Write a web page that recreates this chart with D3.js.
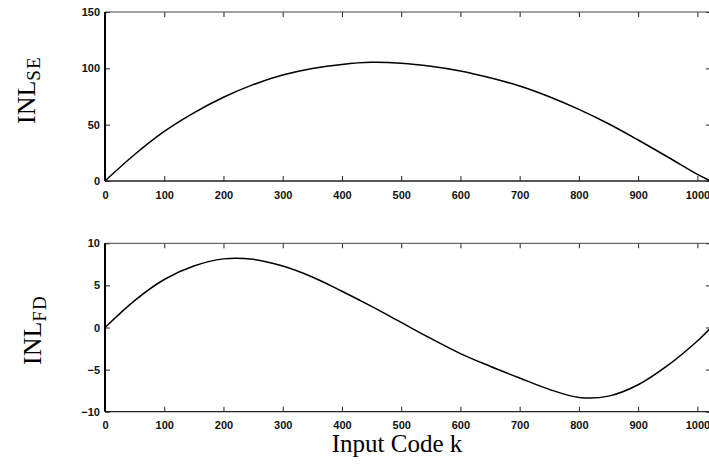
<!DOCTYPE html>
<html>
<head>
<meta charset="utf-8">
<script src="https://cdn.jsdelivr.net/npm/d3@7/dist/d3.min.js"></script>
<style>
  html, body { margin: 0; padding: 0; background: #fff; }
  svg { display: block; }
  .tick text { font-family: "Liberation Sans", Arial, sans-serif; font-size: 11px; font-weight: bold; fill: #111; }
</style>
</head>
<body>
<svg id="chart" width="709" height="464"></svg>
<script>
// ---- data ----
const codes   = [0, 50, 100, 150, 200, 250, 300, 350, 400, 450, 500, 550, 600, 650, 700, 750, 800, 850, 900, 950, 1000, 1023];
const inlSE   = [0, 23.5, 44, 60.5, 74.3, 85.5, 94, 99.8, 103.5, 105.3, 104.5, 101.8, 97.6, 91.6, 84.3, 74.8, 63.6, 50.8, 36.4, 21.3, 5.9, 0];
const inlFD   = [0, 3.2, 5.7, 7.3, 8.15, 8.1, 7.3, 6.0, 4.3, 2.5, 0.6, -1.3, -3.1, -4.6, -6.0, -7.35, -8.3, -8.15, -6.8, -4.5, -1.6, 0];
const xTicks  = [0, 100, 200, 300, 400, 500, 600, 700, 800, 900, 1000];
const seTicks = [0, 50, 100, 150];
const fdTicks = [-10, -5, 0, 5, 10];
const xLabel  = "Input Code k";

const svg = d3.select("#chart");
const left = 105, right = 711;
const x = d3.scaleLinear().domain([0, 1023]).range([left, right]);

function panel(opts) {
  const y = d3.scaleLinear().domain(opts.domain).range([opts.bottom, opts.top]);
  const g = svg.append("g");

  const tl = 5;
  g.append("g").attr("transform", `translate(0,${opts.bottom})`)
    .call(d3.axisBottom(x).tickValues(xTicks).tickSize(-tl).tickPadding(tl + 5).tickFormat(d3.format("d")))
    .call(a => a.select(".domain").remove())
    .call(a => a.selectAll("line").attr("stroke", "#222"));
  g.append("g").attr("transform", `translate(0,${opts.top})`)
    .call(d3.axisTop(x).tickValues(xTicks).tickSize(-tl).tickFormat(""))
    .call(a => a.select(".domain").remove())
    .call(a => a.selectAll("line").attr("stroke", "#222"));
  g.append("g").attr("transform", `translate(${left},0)`)
    .call(d3.axisLeft(y).tickValues(opts.ticks).tickSize(-tl).tickFormat(d3.format("d")))
    .call(a => a.select(".domain").remove())
    .call(a => a.selectAll("line").attr("stroke", "#222"))
    .call(a => a.selectAll("text").attr("x", -5));
  g.append("g").attr("transform", `translate(${right},0)`)
    .call(d3.axisRight(y).tickValues(opts.ticks).tickSize(-tl).tickFormat(""))
    .call(a => a.select(".domain").remove())
    .call(a => a.selectAll("line").attr("stroke", "#222"));

  // frame
  g.append("line").attr("x1", left).attr("x2", right).attr("y1", opts.top).attr("y2", opts.top)
    .attr("stroke", "#444").attr("stroke-width", 1);
  g.append("line").attr("x1", left).attr("x2", right).attr("y1", opts.bottom).attr("y2", opts.bottom)
    .attr("stroke", "#222").attr("stroke-width", 1.3);
  g.append("line").attr("x1", left).attr("x2", left).attr("y1", opts.top).attr("y2", opts.bottom)
    .attr("stroke", "#000").attr("stroke-width", 2);
  g.append("line").attr("x1", right).attr("x2", right).attr("y1", opts.top).attr("y2", opts.bottom)
    .attr("stroke", "#000").attr("stroke-width", 1);

  // curve
  const line = d3.line().x((d, i) => x(codes[i])).y(d => y(d)).curve(d3.curveCatmullRom);
  g.append("path").datum(opts.values).attr("d", line)
    .attr("fill", "none").attr("stroke", "#000").attr("stroke-width", 1.5);

  // y label: INL with subscript, rotated
  const t = g.append("text")
    .attr("transform", `translate(${opts.labelX},${opts.labelY}) rotate(-90)`)
    .attr("font-family", "'Liberation Serif', 'DejaVu Serif', serif")
    .attr("font-size", 26).attr("fill", "#000");
  t.append("tspan").text("INL");
  t.append("tspan").attr("font-size", 19).attr("dy", 5).attr("letter-spacing", 1).text(opts.sub);
}

panel({ domain: [0, 150], top: 12, bottom: 181, ticks: seTicks, values: inlSE, sub: "SE", labelX: 35, labelY: 124 });
panel({ domain: [-10, 10], top: 243.3, bottom: 411.7, ticks: fdTicks, values: inlFD, sub: "FD", labelX: 41, labelY: 365 });

svg.append("text")
  .attr("x", 397).attr("y", 452)
  .attr("text-anchor", "middle")
  .attr("font-family", "'Liberation Serif', 'DejaVu Serif', serif")
  .attr("font-size", 25).attr("fill", "#000")
  .text(xLabel);
</script>
</body>
</html>
